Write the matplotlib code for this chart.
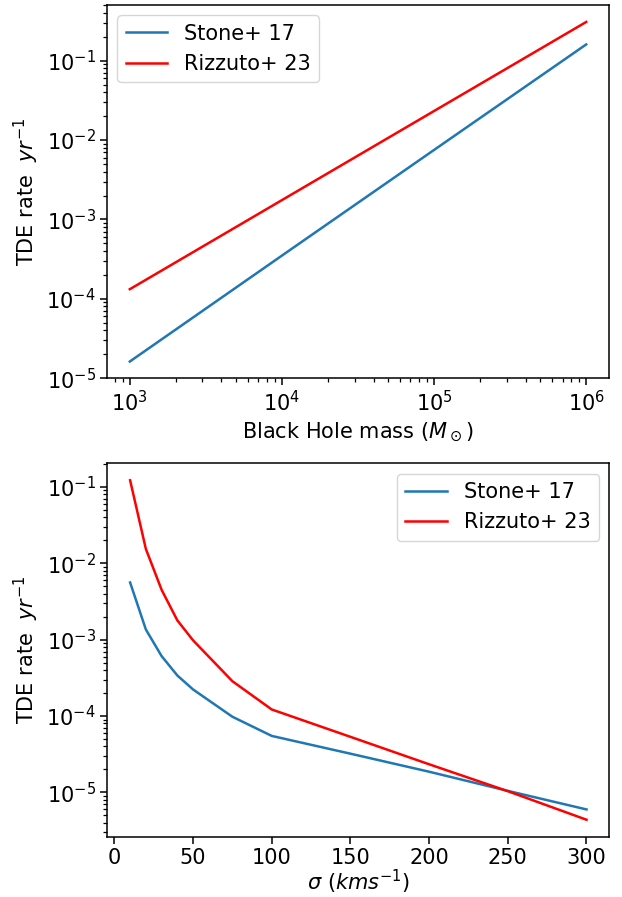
import numpy as np
import matplotlib
matplotlib.use("Agg")
import matplotlib.pyplot as plt

# top panel: rate vs black hole mass
mbh = [1e3, 1e4, 1e5, 1e6]
stone_mbh = [1.62e-5, 3.5e-4, 7.5e-3, 0.160]
rizzuto_mbh = [1.32e-4, 1.75e-3, 2.32e-2, 0.307]

# bottom panel: rate vs velocity dispersion
sigma = [10, 20, 30, 40, 50, 75, 100, 150, 200, 250, 300]
stone_sig = [5.6e-3, 1.36e-3, 6.1e-4, 3.4e-4, 2.23e-4, 9.8e-5, 5.5e-5,
             3.22e-5, 1.87e-5, 1.05e-5, 6.0e-6]
rizzuto_sig = [0.122, 1.54e-2, 4.5e-3, 1.79e-3, 9.8e-4, 2.86e-4, 1.22e-4,
               5.35e-5, 2.34e-5, 1.04e-5, 4.4e-6]

labels = ["Stone+ 17", "Rizzuto+ 23"]

plt.rcParams.update({
    "font.size": 15,
    "lines.linewidth": 1.8,
    "axes.linewidth": 1.1,
    "xtick.major.size": 4.7, "ytick.major.size": 4.7,
    "xtick.minor.size": 2.7, "ytick.minor.size": 2.7,
    "xtick.major.width": 1.1, "ytick.major.width": 1.1,
    "xtick.minor.width": 0.9, "ytick.minor.width": 0.9,
})

dpi = 100
fig = plt.figure(figsize=(6.22, 8.97), dpi=dpi)

# top
ax0 = fig.add_axes([107 / 622, (897 - 378.5) / 897, 502 / 622, 373.5 / 897])
ax0.plot(mbh, stone_mbh, color="tab:blue", label=labels[0])
ax0.plot(mbh, rizzuto_mbh, color="red", label=labels[1])
ax0.set_xscale("log")
ax0.set_yscale("log")
ax0.set_xlabel(r"Black Hole mass ($M_\odot$)")
ax0.set_ylabel(r"TDE rate  $yr^{-1}$")
ax0.legend(loc="upper left")

# bottom
ax1 = fig.add_axes([107.3 / 622, (897 - 836.7) / 897, 502 / 622, 373.4 / 897])
ax1.plot(sigma, stone_sig, color="tab:blue", label=labels[0])
ax1.plot(sigma, rizzuto_sig, color="red", label=labels[1])
ax1.set_yscale("log")
ax1.set_xticks([0, 50, 100, 150, 200, 250, 300])
ax1.set_xlabel(r"$\sigma\ (kms^{-1})$", labelpad=0)
ax1.set_ylabel(r"TDE rate  $yr^{-1}$")
ax1.legend(loc="upper right")

fig.savefig("out.png", dpi=dpi)
